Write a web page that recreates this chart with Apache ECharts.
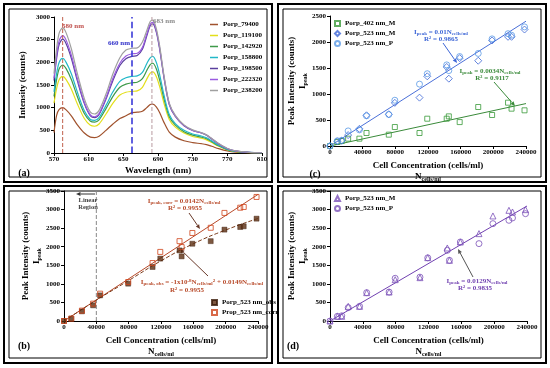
<!DOCTYPE html>
<html><head><meta charset="utf-8">
<script src="https://cdn.jsdelivr.net/npm/echarts@6/dist/echarts.min.js"></script>
<style>html,body{margin:0;padding:0;background:#fff}#c{width:550px;height:368px}</style>
</head><body><div id="c"></div>
<script>
// ---------- DATA ----------
const wavelengths = [570,573,576,580,584,590,597,605,612,617,622,630,638,646,653,660,666,672,677,681,684,688,692,697,703,710,720,730,740,746,752,760,770,780,795,810];
const specNames = ['Porp_79400','Porp_119100','Porp_142920','Porp_158800','Porp_198500','Porp_222320','Porp_238200'];
const spec79400  = [450,830,960,1000,950,820,620,440,350,340,370,500,640,760,820,890,900,920,1000,1070,1080,1020,890,670,460,350,270,230,205,185,148,95,45,20,7,2];
const spec119100 = [1100,1420,1620,1690,1620,1410,1080,760,610,590,640,860,1100,1280,1340,1360,1370,1450,1630,1760,1790,1690,1460,1090,740,570,440,365,325,290,230,148,70,31,10,3];
const spec142920 = [1250,1620,1860,1940,1860,1620,1240,870,700,680,730,980,1250,1450,1520,1550,1560,1640,1820,1950,1980,1860,1600,1190,800,615,470,395,350,315,250,160,75,34,11,4];
const spec158800 = [1350,1750,2000,2090,2000,1750,1340,930,740,720,780,1050,1350,1580,1660,1690,1700,1780,1970,2100,2130,2000,1720,1270,850,650,500,420,375,335,265,170,80,36,12,4];
const spec198500 = [1600,2080,2400,2510,2410,2090,1590,1090,820,780,850,1190,1600,1930,2080,2130,2150,2290,2580,2810,2850,2670,2280,1650,1070,805,600,495,440,390,310,200,95,43,14,5];
const spec222320 = [1650,2150,2480,2590,2490,2160,1640,1120,840,800,870,1220,1650,1980,2140,2190,2200,2330,2620,2840,2880,2700,2310,1670,1080,815,610,500,445,395,315,205,98,44,15,5];
const spec238200 = [1750,2300,2650,2760,2650,2300,1750,1200,900,860,940,1300,1750,2100,2270,2310,2320,2450,2700,2900,2930,2750,2350,1700,1100,830,620,510,450,400,320,210,100,45,15,5];
const peakWavelengths = [580, 660, 683];
const peakLineY = [0, 3000];

const conc = [0,9000,14300,22200,36000,44700,72000,79400,109600,119100,142920,145500,158800,181500,198500,218000,222320,238200];
// panel (c)
const c402M = [0,77,96,141,141,250,218,365,250,525,525,570,460,750,596,833,718,686];
const c523M = [0,90,100,210,330,590,610,830,930,1340,1520,1295,1690,1640,2030,2100,2100,2240];
const c523P = [0,100,110,290,310,580,605,880,1190,1390,1560,1450,1720,1780,2060,2160,2130,2290];
// panel (b)
const bObs  = [0,63,null,260,422,690,null,1005,1454,1680,1900,1740,2080,2150,2460,2530,2550,2755];
const bCorr = [0,63,null,280,467,736,null,1050,1560,1860,2150,1990,2370,2510,2910,3050,3070,3340];
// panel (d)
const dM = [0,126,126,395,395,763,780,1113,1167,1705,1966,1634,2127,2352,2828,2980,2935,2998];
const dP = [0,126,140,360,395,763,780,1150,1180,1700,1903,1634,2127,2083,2621,2711,2774,2890];
// fit lines
const fitX = [0, 240000];
const fitC523 = [0, 2400];
const fitC402 = [0, 816];
const fitBCorr = [0, 3408];
const fitD = [0, 3096];
const obsCurveX = [0,40000,80000,120000,160000,200000,240000];
const obsCurveY = [0,560,1090,1620,2080,2450,2760];
const linearRegionX = [40000, 40000];
const linearRegionY = [0, 3500];

// ---------- HELPERS ----------
const serif = '"Liberation Serif","Times New Roman",serif';
const pairs = (xs, ys) => xs.map((x, i) => ys[i] == null ? null : [x, ys[i]]).filter(p => p);
const specArrays = [spec79400, spec119100, spec142920, spec158800, spec198500, spec222320, spec238200];
const specColors = ['#a0522d', '#e3df1a', '#3f9a4a', '#22b8c8', '#5a3f9e', '#9a5be0', '#a0a0a0'];

const richSub = {
  n: {fontFamily: serif, fontWeight: 'bold', fontSize: 9, color: '#000'},
  s: {fontFamily: serif, fontWeight: 'bold', fontSize: 6, color: '#000', verticalAlign: 'bottom', padding: [4, 0, 0, 0]}
};
function xAx(gi, min, max, interval, name, gap) {
  return {type: 'value', gridIndex: gi, min, max, interval, name, nameLocation: 'middle', nameGap: gap,
    axisLine: {onZero: false, lineStyle: {color: '#000', width: 1}},
    axisTick: {length: 3, lineStyle: {color: '#000'}},
    axisLabel: {fontFamily: serif, fontWeight: 'bold', fontSize: 7, color: '#000', margin: 3, showMinLabel: true, showMaxLabel: true,
      formatter: v => String(v)},
    splitLine: {show: false},
    nameTextStyle: {fontFamily: serif, fontWeight: 'bold', fontSize: 9, color: '#000', lineHeight: 11, rich: richSub}};
}
function yAx(gi, min, max, interval, name, gap) {
  const a = xAx(gi, min, max, interval, name, gap);
  a.axisLabel.margin = 4;
  return a;
}
function arrow(x1, y1, x2, y2, color) {
  const a = Math.atan2(y2 - y1, x2 - x1), L = 4.5, W = 2;
  const bx = x2 - L * Math.cos(a), by = y2 - L * Math.sin(a);
  return [
    {type: 'line', shape: {x1, y1, x2: bx, y2: by}, style: {stroke: color, lineWidth: 1}},
    {type: 'polygon', shape: {points: [[x2, y2], [bx + W * Math.sin(a), by - W * Math.cos(a)], [bx - W * Math.sin(a), by + W * Math.cos(a)]]}, style: {fill: color}}
  ];
}
function txt(x, y, text, color, size, align) {
  return {type: 'text', x, y, z: 100, style: {text, fill: color, fontFamily: serif, fontWeight: 'bold', fontSize: size || 7,
    align: align || 'center', verticalAlign: 'middle',
    rich: {s: {fontFamily: serif, fontWeight: 'bold', fontSize: 5, fill: color, verticalAlign: 'bottom', padding: [3, 0, 0, 0]},
           p: {fontFamily: serif, fontWeight: 'bold', fontSize: 5, fill: color, verticalAlign: 'top'}}}};
}
function frame(x, y, w, h) {
  return [
    {type: 'rect', shape: {x, y, width: w, height: h}, style: {fill: 'none', stroke: '#000', lineWidth: 2}},
    {type: 'rect', shape: {x: x + 5, y: y + 5, width: w - 10, height: h - 10}, style: {fill: 'none', stroke: '#000', lineWidth: 1}}
  ];
}

// ---------- SERIES ----------
const series = [];
specArrays.forEach((arr, i) => series.push({
  type: 'line', name: specNames[i], xAxisIndex: 0, yAxisIndex: 0, data: pairs(wavelengths, arr),
  smooth: 0.3, symbol: 'none', lineStyle: {width: 1.2, color: specColors[i]}, itemStyle: {color: specColors[i]}, z: 3
}));
const peakStyles = [{color: '#c0604d', width: 1}, {color: '#3a3ad8', width: 1.6}, {color: '#b89aa0', width: 1}];
peakWavelengths.forEach((w, i) => series.push({
  type: 'line', xAxisIndex: 0, yAxisIndex: 0, data: pairs([w, w], peakLineY), symbol: 'none', silent: true,
  lineStyle: {type: 'dashed', color: peakStyles[i].color, width: peakStyles[i].width}, z: 4
}));
// panel (c)
series.push({type: 'line', xAxisIndex: 1, yAxisIndex: 1, data: pairs(fitX, fitC523), symbol: 'none', lineStyle: {color: '#4a6fd8', width: 1}, z: 2});
series.push({type: 'line', xAxisIndex: 1, yAxisIndex: 1, data: pairs(fitX, fitC402), symbol: 'none', lineStyle: {color: '#3a8a3a', width: 1}, z: 2});
series.push({type: 'scatter', name: 'Porp_402 nm_M', xAxisIndex: 1, yAxisIndex: 1, data: pairs(conc, c402M), symbol: 'rect', symbolSize: 5,
  itemStyle: {color: 'rgba(255,255,255,0)', borderColor: '#3a9a3a', borderWidth: 1}, z: 5});
series.push({type: 'scatter', name: 'Porp_523 nm_M', xAxisIndex: 1, yAxisIndex: 1, data: pairs(conc, c523M), symbol: 'diamond', symbolSize: 7,
  itemStyle: {color: 'rgba(255,255,255,0)', borderColor: '#3d66d6', borderWidth: 1}, z: 5});
series.push({type: 'scatter', name: 'Porp_523 nm_P', xAxisIndex: 1, yAxisIndex: 1, data: pairs(conc, c523P), symbol: 'circle', symbolSize: 6,
  itemStyle: {color: 'rgba(255,255,255,0)', borderColor: '#5a9ae6', borderWidth: 1}, z: 5});
// panel (b)
series.push({type: 'line', xAxisIndex: 2, yAxisIndex: 2, data: pairs(linearRegionX, linearRegionY), symbol: 'none', lineStyle: {color: '#888', width: 1, type: 'dashed'}, z: 2});
series.push({type: 'line', xAxisIndex: 2, yAxisIndex: 2, data: pairs(fitX, fitBCorr), symbol: 'none', lineStyle: {color: '#b84a2a', width: 1}, z: 2});
series.push({type: 'line', xAxisIndex: 2, yAxisIndex: 2, data: pairs(obsCurveX, obsCurveY), symbol: 'none', smooth: true, lineStyle: {color: '#7a3a1a', width: 1, type: 'dashed'}, z: 2});
series.push({type: 'scatter', name: 'Porp_523 nm_obs', xAxisIndex: 2, yAxisIndex: 2, data: pairs(conc, bObs), symbol: 'rect', symbolSize: 5,
  itemStyle: {color: '#5c2e12', borderColor: '#3a1a08', borderWidth: 0.5}, z: 5});
series.push({type: 'scatter', name: 'Prop_523 nm_corr', xAxisIndex: 2, yAxisIndex: 2, data: pairs(conc, bCorr), symbol: 'rect', symbolSize: 5,
  itemStyle: {color: 'rgba(255,255,255,0)', borderColor: '#d0451b', borderWidth: 1}, z: 5});
// panel (d)
series.push({type: 'line', xAxisIndex: 3, yAxisIndex: 3, data: pairs(fitX, fitD), symbol: 'none', lineStyle: {color: '#7040b0', width: 1}, z: 2});
series.push({type: 'scatter', name: 'Porp_523 nm_M ', xAxisIndex: 3, yAxisIndex: 3, data: pairs(conc, dM), symbol: 'triangle', symbolSize: 6,
  itemStyle: {color: 'rgba(255,255,255,0)', borderColor: '#7a50b8', borderWidth: 1}, z: 5});
series.push({type: 'scatter', name: 'Porp_523 nm_P ', xAxisIndex: 3, yAxisIndex: 3, data: pairs(conc, dP), symbol: 'circle', symbolSize: 6,
  itemStyle: {color: 'rgba(255,255,255,0)', borderColor: '#7a50b8', borderWidth: 1}, z: 5});

const legText = {fontFamily: serif, fontWeight: 'bold', fontSize: 7, color: '#000'};
const legBase = {orient: 'vertical', selectedMode: false, padding: 0, textStyle: legText, itemWidth: 5, itemHeight: 5, itemGap: 3};

const cellName = 'Cell Concentration (cells/ml)\n{n|N}{s|cells/ml}';
const peakName = 'Peak Intensity (counts)\n{n|I}{s|peak}';

const graphic = [].concat(
  frame(4, 4, 268, 178), frame(278, 4, 268, 178), frame(4, 186, 268, 177), frame(278, 186, 268, 177),
  [txt(24, 173, '(a)', '#000', 10), txt(315, 174, '(c)', '#000', 10), txt(24, 346, '(b)', '#000', 10), txt(293, 346, '(d)', '#000', 10)],
  [txt(73, 26, '580 nm', '#c0504d', 7), txt(119, 43, '660 nm', '#2d2dc8', 7), txt(164, 21, '683 nm', '#8a8a8a', 7)],
  // (c)
  [txt(441, 32, 'I{s|peak} = 0.01N{s|cells/ml}', '#3d66d6', 7), txt(441, 39, 'R² = 0.9865', '#3d66d6', 7)],
  arrow(443, 43, 457, 63, '#3d66d6'),
  [txt(490, 71, 'I{s|peak} = 0.0034N{s|cells/ml}', '#3a8a3a', 7), txt(492, 78, 'R² = 0.9117', '#3a8a3a', 7)],
  arrow(494, 82, 515, 106, '#3a8a3a'),
  // (b)
  [txt(184, 201, 'I{s|peak, corr} = 0.0142N{s|cells/ml}', '#b84a2a', 7), txt(185, 208, 'R² = 0.9955', '#b84a2a', 7)],
  arrow(189, 213, 200, 229, '#6a3a2a'),
  [txt(202, 282, 'I{s|peak, obs} = -1x10{p|-8}N{s|cells/ml}{p|2} + 0.0149N{s|cells/ml}', '#b84a2a', 7), txt(187, 290, 'R² = 0.9955', '#b84a2a', 7)],
  arrow(208, 276, 180, 249, '#6a3a2a'),
  [txt(88, 200, 'Linear', '#444', 6.5), txt(88, 207, 'Region', '#444', 6.5)],
  arrow(95, 194, 76, 194, '#333'),
  // (d)
  [txt(477, 281, 'I{s|peak} = 0.0129N{s|cells/ml}', '#7040b0', 7), txt(475, 288, 'R² = 0.9835', '#7040b0', 7)],
  arrow(473, 277, 458, 249, '#555')
);

const option = {
  backgroundColor: '#fff',
  animation: false,
  grid: [
    {left: 54, top: 17, width: 208, height: 136},
    {left: 330, top: 16, width: 196, height: 130},
    {left: 64, top: 191, width: 194, height: 130},
    {left: 330, top: 191, width: 197, height: 130}
  ],
  xAxis: [
    xAx(0, 570, 810, 40, 'Wavelength (nm)', 12),
    xAx(1, 0, 240000, 40000, cellName, 14),
    xAx(2, 0, 240000, 40000, cellName, 14),
    xAx(3, 0, 240000, 40000, cellName, 14)
  ],
  yAxis: [
    yAx(0, 0, 3000, 500, 'Intensity (counts)', 26),
    yAx(1, 0, 2500, 500, peakName, 20),
    yAx(2, 0, 3500, 500, peakName, 22),
    yAx(3, 0, 3500, 500, peakName, 20)
  ],
  legend: [
    Object.assign({}, legBase, {data: specNames, left: 210, top: 21, icon: 'rect', itemWidth: 8, itemHeight: 1.5, itemGap: 4}),
    Object.assign({}, legBase, {data: ['Porp_402 nm_M', 'Porp_523 nm_M', 'Porp_523 nm_P'], left: 334, top: 20}),
    Object.assign({}, legBase, {data: ['Porp_523 nm_obs', 'Prop_523 nm_corr'], left: 211, top: 299}),
    Object.assign({}, legBase, {data: ['Porp_523 nm_M ', 'Porp_523 nm_P '], left: 334, top: 195})
  ],
  series,
  graphic
};
const chart = echarts.init(document.getElementById('c'), null, {renderer: 'canvas'});
chart.setOption(option);
</script>
</body></html>
